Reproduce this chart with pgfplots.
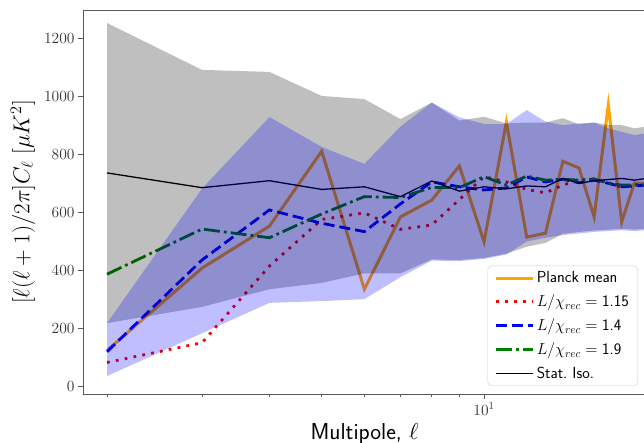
\RequirePackage{fix-cm}
\documentclass[border=0pt]{standalone}
\usepackage{pgfplots}
\pgfplotsset{compat=1.18}
\usepackage{pgfplotstable}
\definecolor{mplorange}{RGB}{255,165,0}
\definecolor{mplgreen}{RGB}{0,128,0}

% multipole, Planck mean, three L/chi_rec models, stat. iso. mean
\pgfplotstableread{
l  planck r115 b14 g19 iso
2  124    82   119 387 737
3  408    150  436 543 686
4  553    415  609 513 710
5  812    576  563 595 680
6  335    599  534 655 689
7  585    542  630 652 655
8  643    557  706 687 709
9  761    645  689 686 674
10 499    724  678 724 689
11 913    706  685 695 682
12 515    680  723 726 692
13 529    668  706 712 689
14 777    695  715 715 718
15 754    712  703 712 701
16 585    716  712 716 710
17 972    703  701 701 714
18 568    687  689 695 718
19 702    695  692 695 712
20 700    700  695 695 718
}\cls

% grey band outline: upper edge, then lower edge backwards
\pgfplotstableread{
l  v
2  1255
3  1093
4  1086
5  1003
6  992
7  923
8  980
9  918
10 931
11 908
12 911
13 911
14 926
15 905
16 911
17 902
18 902
19 891
20 897
20 544
19 541
18 544
17 541
16 538
15 533
14 527
13 495
12 482
11 458
10 443
9  436
8  438
7  390
6  390
5  357
4  335
3  274
2  218
}\greyband

% blue band outline: upper edge, then lower edge backwards
\pgfplotstableread{
l  v
2  218
3  683
4  930
5  827
6  768
7  897
8  980
9  929
10 906
11 906
12 954
13 914
14 902
15 908
16 911
17 891
18 879
19 868
20 874
20 539
19 536
18 539
17 536
16 533
15 528
14 522
13 513
12 500
11 455
10 440
9  432
8  434
7  377
6  301
5  294
4  288
3  183
2  35
}\blueband

\begin{document}
\begin{tikzpicture}
\begin{axis}[
  name=ax,
  scale only axis, width=561pt, height=384pt,
  xmode=log, xmin=1.805, xmax=19.8,
  ymin=-27, ymax=1300,
  xtick={10}, xticklabels={$10^1$},
  minor xtick={2,3,4,5,6,7,8,9,20},
  ytick={0,200,...,1200},
  /pgf/number format/1000 sep={},
  axis x line*=box, axis y line*=left,
  axis line style={black!65, line width=0.9pt},
  tick align=outside, tick pos=left,
  major tick length=5pt, minor tick length=3pt,
  every tick/.style={black!65, line width=0.9pt},
  tick label style={font=\fontsize{15.5}{15.5}\selectfont, text=black!80},
  ylabel={$[\ell(\ell+1)/2\pi]C_\ell\ [\mu K^2]$},
  ylabel style={font=\fontsize{23}{23}\selectfont, at={(axis description cs:-0.107,0.5)}, anchor=center, rotate=0},
  xlabel={\sffamily Multipole, $\ell$},
  xlabel style={font=\fontsize{23}{23}\selectfont, at={(axis description cs:0.502,0)}, anchor=base, yshift=-45.3pt},
  legend style={at={(axis description cs:1,0)}, anchor=south east, xshift=-6pt, yshift=8pt,
    draw=black!20, rounded corners=4pt, fill=white, fill opacity=0.8, text opacity=1,
    font=\sffamily\fontsize{16}{16}\selectfont, row sep=6.5pt, inner xsep=7pt, inner ysep=4pt,
    /tikz/every even column/.append style={column sep=6pt}},
  legend cell align=left,
  legend image code/.code={\draw[#1] (0pt,0pt) -- (37pt,0pt);},
]
\addplot[mplorange, line width=3pt] table[x=l, y=planck] {\cls};
\addplot[red, line width=2.8pt, dash pattern=on 2.8pt off 6.2pt] table[x=l, y=r115] {\cls};
\addplot[blue, line width=2.8pt, dash pattern=on 11pt off 5pt] table[x=l, y=b14] {\cls};
\addplot[mplgreen, line width=2.8pt, dash pattern=on 16pt off 4pt on 2.8pt off 4pt] table[x=l, y=g19] {\cls};
\addplot[black, line width=1.3pt] table[x=l, y=iso] {\cls};

\addplot[fill=black, fill opacity=0.25, draw=none, forget plot] table[x=l, y=v] {\greyband} -- cycle;
\addplot[fill=blue, fill opacity=0.25, draw=none, forget plot] table[x=l, y=v] {\blueband} -- cycle;

\legend{Planck mean, $L/\chi_{rec} = {}$1.15, $L/\chi_{rec} = {}$1.4, $L/\chi_{rec} = {}$1.9, Stat.\ Iso.}
\end{axis}
\pgfresetboundingbox
\path[use as bounding box] ([xshift=-83pt,yshift=-49pt]ax.south west) rectangle ([yshift=10pt]ax.north east);
\end{tikzpicture}
\end{document}
